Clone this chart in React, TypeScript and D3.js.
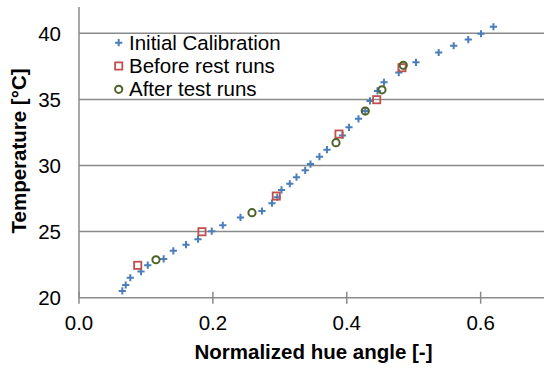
import React from "react";
import * as d3 from "d3";

// Normalized hue angle vs temperature
const calibX = [0.0647, 0.0698, 0.0766, 0.0926, 0.1027, 0.1265, 0.1409, 0.1598, 0.1778, 0.1983, 0.2148, 0.2412, 0.2733, 0.2883, 0.2962, 0.3025, 0.3149, 0.3249, 0.3379, 0.3458, 0.3592, 0.3704, 0.3936, 0.4033, 0.4175, 0.4276, 0.4347, 0.4459, 0.4556, 0.4777, 0.5034, 0.5373, 0.5597, 0.5815, 0.6005, 0.6191];
const calibY = [20.51, 20.96, 21.51, 21.98, 22.46, 22.93, 23.55, 24.01, 24.43, 25.03, 25.48, 26.07, 26.56, 27.15, 27.6, 28.15, 28.62, 29.12, 29.64, 30.11, 30.67, 31.2, 32.28, 32.89, 33.53, 34.12, 34.89, 35.64, 36.3, 37.03, 37.81, 38.55, 39.06, 39.53, 39.97, 40.5];

const beforeX = [0.0877, 0.1837, 0.2947, 0.3884, 0.4447, 0.4825];
const beforeY = [22.45, 24.99, 27.69, 32.38, 34.98, 37.4];

const afterX = [0.115, 0.2584, 0.3839, 0.4276, 0.4526, 0.4844];
const afterY = [22.87, 26.43, 31.73, 34.12, 35.73, 37.58];

const xTicks = [0, 0.2, 0.4, 0.6];
const yTicks = [20, 25, 30, 35, 40];
const seriesNames = ["Initial Calibration", "Before rest runs", "After test runs"];

const W = 544;
const H = 370;
const BLUE = "#4a7ebb";
const RED = "#c0504d";
const GREEN = "#4f6228";
const GRID = "#8a8a8a";
const FONT = "'Liberation Sans', Arial, sans-serif";
const FS = 20.5;

const x = d3.scaleLinear().domain([0, 0.7]).range([79, 547.6]);
const y = d3.scaleLinear().domain([20, 42]).range([297.7, 6.9]);

const Plus = ({ cx, cy }: { cx: number; cy: number }) => (
  <path d={`M${cx - 3.6},${cy}H${cx + 3.6}M${cx},${cy - 3.6}V${cy + 3.6}`} stroke={BLUE} strokeWidth={2} fill="none" />
);
const Square = ({ cx, cy }: { cx: number; cy: number }) => (
  <rect x={cx - 3.6} y={cy - 3.6} width={7.2} height={7.2} stroke={RED} strokeWidth={1.8} fill="none" />
);
const Circle = ({ cx, cy }: { cx: number; cy: number }) => (
  <circle cx={cx} cy={cy} r={3.6} stroke={GREEN} strokeWidth={2} fill="none" />
);

export default function App() {
  const x0 = x(0);
  const y0 = y(20);
  return (
    <svg width={W} height={H} style={{ position: "absolute", left: 0, top: 0, background: "#fff" }} fontFamily={FONT}>
      {/* horizontal gridlines */}
      {yTicks.slice(1).map((t) => (
        <line key={t} x1={x0} x2={W} y1={y(t)} y2={y(t)} stroke={GRID} strokeWidth={1.5} />
      ))}
      {/* axes */}
      <line x1={x0} x2={x0} y1={y(42)} y2={y0} stroke={GRID} strokeWidth={1.5} />
      <line x1={x0} x2={W} y1={y0} y2={y0} stroke={GRID} strokeWidth={1.5} />
      {xTicks.map((t) => (
        <line key={t} x1={x(t)} x2={x(t)} y1={y0 - 6} y2={y0 + 6} stroke={GRID} strokeWidth={1.5} />
      ))}
      {/* tick labels */}
      {xTicks.map((t) => (
        <text key={t} x={x(t)} y={330} textAnchor="middle" fontSize={FS} fill="#000">
          {d3.format(".1f")(t)}
        </text>
      ))}
      {yTicks.map((t) => (
        <text key={t} x={61} y={y(t)} dy="0.35em" textAnchor="end" fontSize={FS} fill="#000">
          {t}
        </text>
      ))}
      {/* axis titles */}
      <text x={313.5} y={359} textAnchor="middle" fontSize={FS} fontWeight="bold" fill="#000">
        Normalized hue angle [-]
      </text>
      <text transform="translate(26,151) rotate(-90)" textAnchor="middle" fontSize={FS} fontWeight="bold" fill="#000">
        Temperature [°C]
      </text>
      {/* data */}
      {calibX.map((v, i) => (
        <Plus key={`c${i}`} cx={x(v)} cy={y(calibY[i])} />
      ))}
      {beforeX.map((v, i) => (
        <Square key={`b${i}`} cx={x(v)} cy={y(beforeY[i])} />
      ))}
      {afterX.map((v, i) => (
        <Circle key={`a${i}`} cx={x(v)} cy={y(afterY[i])} />
      ))}
      {/* legend */}
      {seriesNames.map((name, i) => {
        const cy = 42.7 + i * 23.3;
        return (
          <g key={name}>
            {i === 0 && <Plus cx={118.7} cy={cy} />}
            {i === 1 && <Square cx={118.7} cy={cy} />}
            {i === 2 && <Circle cx={118.7} cy={cy} />}
            <text x={129} y={cy + 6.8} fontSize={FS} fill="#000">
              {name}
            </text>
          </g>
        );
      })}
    </svg>
  );
}
